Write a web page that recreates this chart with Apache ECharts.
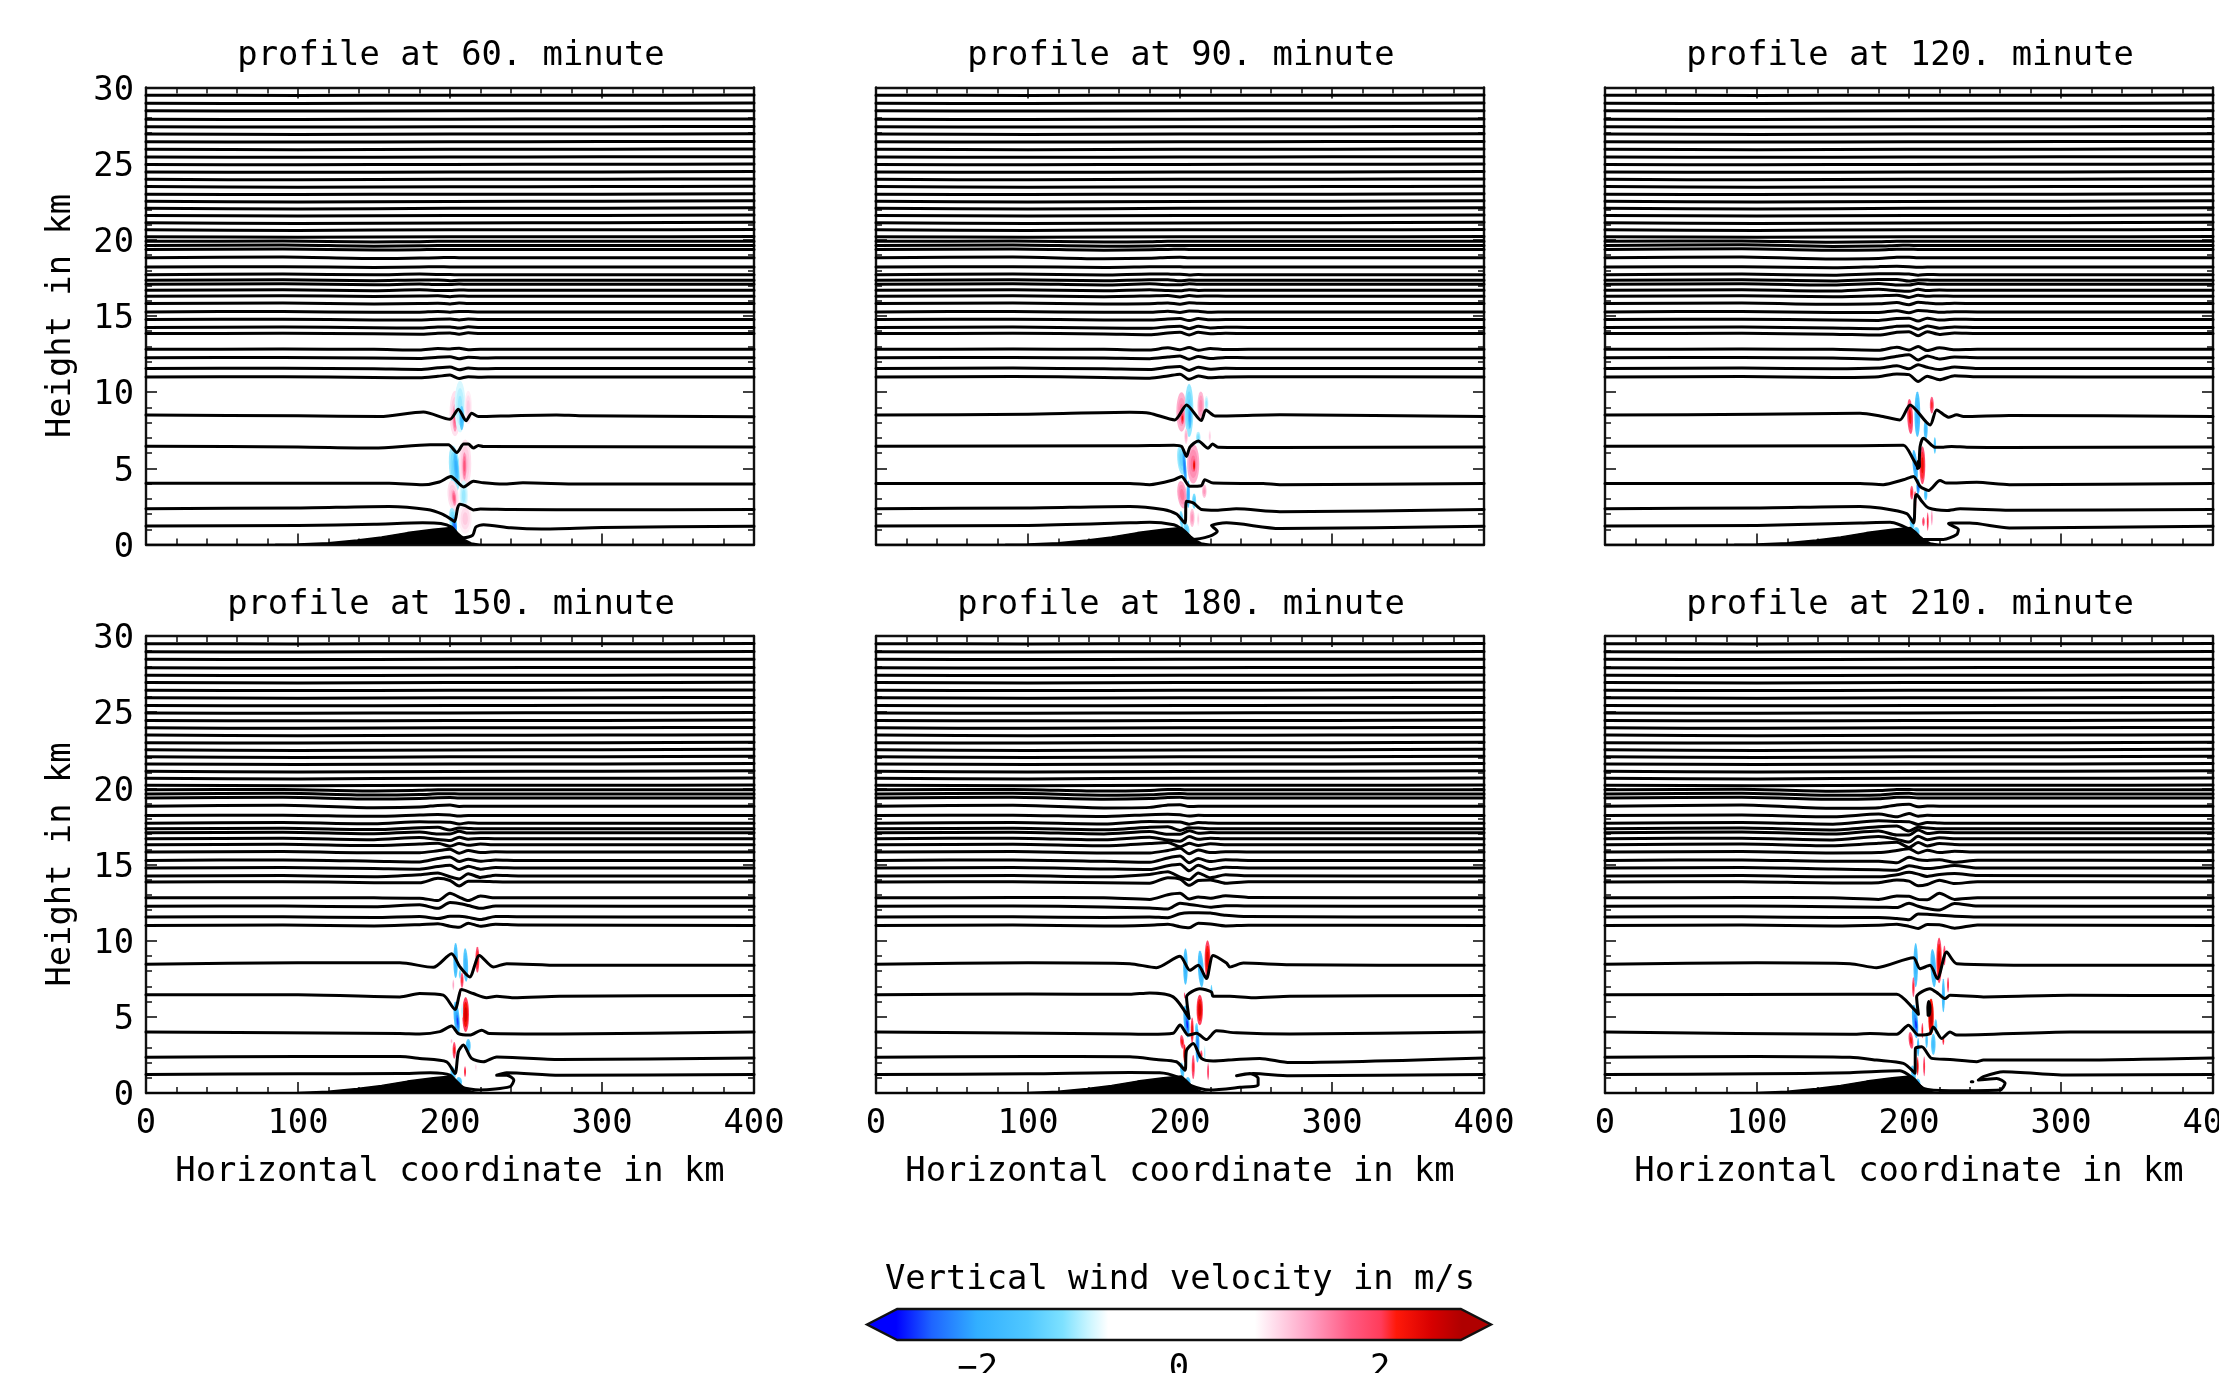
<!DOCTYPE html>
<html><head><meta charset="utf-8">
<style>html,body{margin:0;padding:0;background:#fff;overflow:hidden}#c{width:2219px;height:1373px}</style>
<script src="https://cdn.jsdelivr.net/npm/echarts@6/dist/echarts.min.js"></script>
</head><body><div id="c"></div>
<script>
// ---- data (km, m/s) ----
const panelTitles = ['profile at 60. minute','profile at 90. minute','profile at 120. minute','profile at 150. minute','profile at 180. minute','profile at 210. minute'];
const xTicks = [0,100,200,300,400];
const terrainX = [0,85,100,120,139,155,172,189,201,204,207,210,214,220,400];
const terrainH = [0,0.01,0.04,0.12,0.3,0.5,0.78,1.0,1.12,0.85,0.55,0.3,0.1,0,0];

// upper isentropes: height at x = 0,100,200,300,400
const upperX = [0,100,200,300,400];
const upperRows = [
[20.2,20.17,20.21,20.2,20.22],[20.66,20.62,20.66,20.66,20.68],[21.12,21.08,21.11,21.12,21.15],
[21.6,21.56,21.6,21.6,21.63],[22.08,22.03,22.07,22.08,22.11],[22.53,22.48,22.52,22.53,22.56],
[23.0,22.97,23.0,23.0,23.03],[23.5,23.46,23.48,23.5,23.52],[23.97,23.94,23.97,23.98,24.0],
[24.46,24.43,24.45,24.46,24.48],[24.95,24.93,24.95,24.96,24.97],[25.44,25.42,25.44,25.45,25.46],
[25.94,25.92,25.94,25.95,25.96],[26.44,26.42,26.44,26.45,26.46],[26.94,26.92,26.94,26.95,26.96],
[27.42,27.41,27.42,27.43,27.44],[27.92,27.9,27.92,27.93,27.94],[28.47,28.45,28.47,28.47,28.48],
[28.97,28.95,28.97,28.97,28.98],[29.49,29.48,29.49,29.49,29.5]
];

// mid-level isentropes: base height and departures (1/100 km) at midX
const midX = [0,90,150,180,192,200,206,212,220,230,245,400];
const midBase = [11.0,11.55,12.26,12.81,13.85,14.25,14.77,15.27,15.82,16.3,16.69,17.08,17.34,17.71,18.21,18.83,19.37,19.63,19.9];
const mid60 = [
[0,2,-3,-6,4,12,-10,2,-2,0,0,0],[0,2,-2,-6,5,10,-8,3,-1,0,0,0],[0,2,-2,-5,4,7,-7,4,-2,0,0,0],[0,2,0,-4,6,3,7,-3,1,0,0,0],
[0,1,-2,-5,2,4,-4,5,0,0,0,0],[0,2,-2,-4,3,3,-4,4,-1,0,0,0],[0,2,-3,-3,2,3,-3,3,0,0,0,0],[0,3,-3,-2,3,-2,3,2,0,0,0,0],
[0,3,-3,0,2,-3,3,0,0,0,0,0],[0,3,-2,1,3,-3,2,0,0,0,0,0],[0,3,-3,3,-1,-2,2,0,0,0,0,0],[0,4,-3,2,-2,-2,2,0,0,0,0,0],
[0,4,-2,3,3,-2,1,0,0,0,0,0],[0,4,-1,4,2,2,-1,0,0,0,0,0],[0,3,-2,1,2,1,0,0,0,0,0,0],[0,4,-6,-3,0,1,0,0,0,0,0,0],
[0,3,-4,-2,0,0,0,0,0,0,0,0],[0,3,-5,-2,0,0,0,0,0,0,0,0],[0,2,-4,-2,0,0,0,0,0,0,0,0]];
const mid90 = [
[0,3,-3,-8,6,18,-16,6,-6,0,1,0],[0,3,-2,-6,8,14,-13,8,-4,2,0,0],[0,2,-2,-6,5,12,-10,8,-5,2,0,0],[0,2,0,-4,10,-2,12,-6,6,-1,0,0],
[0,1,-3,-8,4,8,-10,8,-2,1,0,0],[0,2,-3,-6,5,7,-8,7,-3,1,0,0],[0,2,-3,-4,4,6,-7,6,-2,0,0,0],[0,3,-3,-3,5,-4,6,4,-2,0,0,0],
[0,3,-4,-1,4,-5,5,1,0,0,0,0],[0,3,-3,2,5,-5,4,0,1,0,0,0],[0,3,-4,4,-2,-4,4,-1,0,0,0,0],[0,4,-4,3,-3,-3,4,0,0,0,0,0],
[0,4,-3,4,4,-3,2,1,0,0,0,0],[0,4,-2,5,4,3,-2,1,0,0,0,0],[0,3,-3,2,3,2,0,0,0,0,0,0],[0,4,-7,-4,1,2,-1,0,0,0,0,0],
[0,3,-5,-2,0,1,0,0,0,0,0,0],[0,3,-5,-3,0,0,0,0,0,0,0,0],[0,2,-5,-2,1,0,0,0,0,0,0,0]];
const mid120 = [
[0,3,-3,2,20,15,-30,5,-18,8,1,0],[0,3,-2,3,18,-2,25,8,-6,10,0,0],[0,2,-2,-10,10,20,-15,12,-8,5,0,0],[0,2,0,-6,14,-4,18,-8,10,-3,0,0],
[0,1,-4,-10,8,12,-15,12,-6,3,0,0],[0,2,-4,-8,8,10,-12,10,-5,3,0,0],[0,2,-4,-6,6,9,-10,9,-4,2,0,0],[0,3,-4,-4,8,-6,9,6,-3,1,0,0],
[0,3,-5,-2,6,-8,8,3,-2,1,0,0],[0,3,-4,3,7,-8,6,-1,2,0,0,0],[0,3,-5,6,-3,-7,6,-2,1,0,0,0],[0,4,-5,5,-5,-5,6,0,0,0,0,0],
[0,4,-4,6,6,-5,3,2,0,0,0,0],[0,4,-3,7,6,4,-3,2,0,0,0,0],[0,3,-4,3,5,3,-1,0,0,0,0,0],[0,5,-8,-5,2,3,-1,0,0,0,0,0],
[0,4,-6,-3,1,2,0,0,0,0,0,0],[0,4,-6,-4,0,1,0,0,0,0,0,0],[0,3,-6,-3,1,1,0,0,0,0,0,0]];
const mid150 = [
[0,3,-3,5,11,-5,-12,15,-5,8,3,0],[0,2,-3,4,-10,5,5,-2,-16,4,2,0],[0,2,-4,10,-14,25,18,5,-14,2,1,0],[0,1,0,-2,-18,30,5,-18,12,0,1,0],
[0,2,-4,-5,24,10,-26,5,5,2,0,0],[0,2,-5,8,20,-5,-20,15,-10,5,0,0],[0,3,-4,-8,10,18,-10,12,-8,3,0,0],[0,3,-5,-10,12,22,-8,8,-6,3,0,0],
[0,3,-5,-5,8,18,-8,10,-3,1,0,0],[0,3,-6,5,10,-10,8,-4,4,0,0,0],[0,3,-6,8,-5,-12,10,-3,2,0,0,0],[0,4,-6,6,-8,-8,10,-2,0,0,0,0],
[0,4,-5,8,10,-8,6,3,0,0,0,0],[0,4,-4,9,8,6,-5,3,0,0,0,0],[0,3,-5,4,7,4,-2,1,0,0,0,0],[0,6,-10,-6,5,8,-2,0,0,0,0,0],
[0,4,-7,-3,2,3,0,0,0,0,0,0],[0,4,-7,-4,1,2,0,0,0,0,0,0],[0,3,-7,-3,1,1,0,0,0,0,0,0]];
const mid180 = [
[0,3,-4,2,8,-8,-15,15,10,-3,2,0],[0,2,-3,0,-4,22,28,28,26,12,3,0],[0,2,-5,-12,-18,20,12,4,-6,4,1,0],[0,2,0,-10,20,30,-8,6,-2,14,3,0],
[0,2,-5,-8,28,20,-22,10,14,-8,2,0],[0,2,-6,10,28,-8,-25,20,-12,8,1,0],[0,3,-6,-10,15,25,-18,18,-10,5,0,0],[0,3,-6,-12,16,28,-15,12,-8,5,0,0],
[0,3,-6,-6,10,24,-12,14,-4,2,0,0],[0,3,-7,8,14,-14,10,-5,6,0,0,0],[0,4,-7,10,-8,-16,14,-4,4,0,0,0],[0,4,-7,8,-10,-10,14,-3,2,0,0,0],
[0,4,-6,10,14,-10,8,5,0,0,0,0],[0,4,-5,12,10,8,-6,4,1,0,0,0],[0,3,-6,6,9,5,-3,2,0,0,0,0],[0,6,-12,-8,7,10,-3,0,0,0,0,0],
[0,4,-8,-4,3,4,-1,0,0,0,0,0],[0,4,-8,-5,2,3,0,0,0,0,0,0],[0,3,-8,-4,2,2,0,0,0,0,0,0]];
const mid210 = [
[0,3,-3,2,8,-6,-20,6,5,-18,3,0],[0,2,-3,-3,-10,-18,20,18,12,6,1,0],[0,2,-4,-6,-8,20,0,-15,-25,18,2,0],[0,2,0,-10,12,10,-10,-12,30,-10,1,0],
[0,2,-6,-4,14,6,-24,-16,12,-10,2,0],[0,2,-6,-6,8,24,12,-3,10,16,2,0],[0,3,-7,-12,-14,15,5,-4,4,16,0,0],[0,3,-6,-6,-16,20,4,0,5,-12,1,0],
[0,3,-6,-4,10,22,-6,12,-4,5,0,0],[0,4,-7,10,16,-18,14,-8,8,2,0,0],[0,4,-8,14,-4,-22,16,-6,6,0,0,0],[0,5,-8,12,-14,-14,18,-4,3,1,0,0],
[0,5,-7,14,18,-14,10,6,1,0,0,0],[0,5,-6,16,12,10,-8,5,2,0,0,0],[0,4,-8,10,-8,14,-4,2,0,0,0,0],[0,7,-14,-10,8,12,-4,1,0,0,0,0],
[0,5,-9,-5,4,5,-1,0,0,0,0,0],[0,5,-9,-6,3,4,0,0,0,0,0,0],[0,4,-9,-5,2,3,0,0,0,0,0,0]];

// lowest isentropes as x,height pairs
const low60 = [
[0,1.22,100,1.24,150,1.33,182,1.42,194,1.38,201,1.15,205,.7,209,.44,215,.62,217,1.15,222,1.3,240,1.1,260,1.02,300,1.12,400,1.2],
[0,2.35,100,2.4,160,2.5,185,2.3,195,2.0,200,1.7,203,1.5,205,2.4,206.5,2.65,210,2.55,215.5,2.27,220,2.33,240,2.3,300,2.28,400,2.3],
[0,4.02,100,4.02,160,4.02,182,3.92,193,4.1,200.5,4.47,209,3.78,215.4,4.15,222,4.05,235,3.97,248,4.05,285,3.97,400,3.97],
[0,6.45,100,6.4,150,6.33,187,6.55,199,6.55,204.5,6.04,209,6.59,212,6.59,215.4,6.33,218.7,6.5,222,6.43,400,6.4],
[0,8.5,100,8.45,154,8.4,182.5,8.7,200,8.22,205.5,8.88,210.6,8.13,214.3,8.62,218.7,8.4,242,8.46,270,8.5,285,8.46,400,8.38]];
const low90 = [
[0,1.22,100,1.25,167,1.42,180,1.46,196,1.3,199.9,1.09,207.6,.33,219.6,.55,224.5,.87,220.7,1.24,230.6,1.42,265.7,1.05,400,1.2],
[0,2.35,100,2.4,167,2.5,189,2.3,197.7,2.0,203.2,1.41,204.3,2.84,208.7,2.73,214.1,2.3,224,2.25,237,2.34,265.7,2.15,400,2.3],
[0,4.0,167,4.0,180,3.93,196,4.25,201,4.47,206.5,3.82,214,3.86,216.3,4.25,221.8,4.03,254.7,4.0,265.7,3.93,400,4.0],
[0,6.45,167,6.48,196,6.52,201,6.44,204.3,5.78,206.5,6.39,212,6.8,218.5,6.32,221.4,6.59,225,6.39,265.7,6.37,400,6.4],
[0,8.5,100,8.55,167,8.68,180,8.62,196.6,8.18,204.3,9.16,214,8.14,217,8.83,223,8.44,265.7,8.51,400,8.4]];
const low120 = [
[0,1.22,100,1.25,167.8,1.41,187.5,1.46,203,.87,209.5,.33,222.6,.33,231.4,.65,232.5,.98,227,1.3,226,1.37,228,1.41,240,1.41,266,1.09,400,1.2],
[0,2.35,100,2.4,167.8,2.5,181,2.4,198.5,2.03,203,1.41,204,2.95,205,3.28,208.4,2.84,212.8,2.4,224.8,2.23,233.6,2.34,266,2.25,400,2.3],
[0,4.0,167.8,4.0,183,3.93,196.3,4.25,202.9,4.47,207.3,3.82,212.8,3.55,220.4,4.2,224.8,4.03,244.6,4.08,266,3.93,400,4.0],
[0,6.45,167.8,6.48,196.3,6.52,202.9,5.57,206.2,5.02,207.3,6.44,209.5,6.98,217.1,6.39,222.6,6.39,228,6.44,238,6.39,266,6.37,400,6.4],
[0,8.5,100,8.55,167.8,8.62,181,8.44,194,8.18,200.7,9.16,213.9,7.85,218.2,8.83,226,8.36,231.4,8.51,235.8,8.4,266,8.47,400,8.4],
[205.6,5.0,205.9,5.4,206.6,5.5,206.8,5.1,205.6,5.0]];
const low150 = [
[0,1.22,100,1.26,167,1.28,187,1.33,200,1.17,206.6,.42,219.7,.2,239.5,.42,242,.85,237.3,1.17,230.7,1.17,237.3,1.33,272,1.17,400,1.22],
[0,2.35,100,2.4,167,2.4,180,2.27,197.8,2.05,203.3,1.28,205.5,2.71,208.8,3.15,214.2,2.27,221.9,2.05,230.7,2.37,272,2.2,400,2.3],
[0,4.0,167,3.9,180,3.87,193.4,4.03,201,4.4,205.5,3.9,213,3.8,220.8,4.12,226,3.9,272,3.87,400,4.0],
[0,6.45,100,6.45,167,6.31,180,6.53,195.6,6.42,203.3,5.48,207.7,6.79,215.3,6.53,224,6.26,230.7,6.35,241.7,6.26,272,6.35,400,6.4],
[0,8.45,100,8.55,167,8.55,189,8.25,201,9.14,206.6,8.27,213,7.62,219.3,9.03,228.5,8.27,237.3,8.49,272,8.38,400,8.38]];
const low180 = [
[0,1.22,100,1.26,167,1.35,186.7,1.33,197.7,1.07,206.5,.52,219.6,.2,239.4,.37,251.4,.52,251.4,.96,246,1.28,237.2,1.13,248.1,1.28,272.3,1.13,400,1.22],
[0,2.35,100,2.4,167,2.38,184.5,2.2,197.7,2.05,203.2,1.5,204.3,2.8,208.7,3.25,214.1,2.27,221.8,2.1,237.2,2.2,252.5,2.27,272.3,2.0,400,2.3],
[0,4.0,167,3.87,180,3.85,195.5,3.92,200,4.47,205.5,3.8,210.9,3.92,217.4,3.51,224,4.08,237.2,3.95,272.3,3.87,400,4.0],
[0,6.45,100,6.5,167,6.48,180,6.57,195.5,6.31,206,4.89,204.3,6.31,213,6.85,220.7,6.63,221.8,6.35,232.8,6.35,248,6.26,272.3,6.35,400,6.4],
[0,8.45,100,8.55,167,8.49,184.5,8.23,200,8.97,206.5,8.05,212,8.38,217.4,7.51,221.8,9.03,230.6,8.53,232.8,8.27,241.6,8.53,272.3,8.42,400,8.38]];
const low210 = [
[0,1.22,100,1.26,161.2,1.33,194,1.46,202.9,.96,209.4,.3,227,.15,259.9,.2,263.2,.64,257.7,.96,245.6,.85,248.9,1.07,262,1.39,306,1.18,400,1.22],
[0,2.35,100,2.4,161.2,2.34,178.7,2.16,196.3,1.94,204,1.29,204.2,2.92,208.4,3.03,215,2.27,227,2.2,244.5,2.05,249,2.16,306,2.16,400,2.3],
[0,4.0,161.2,3.86,174.4,3.9,192,3.86,199.6,4.45,206.2,3.8,213.8,3.9,216,4.34,221.5,3.58,227,4.01,231.4,3.8,306,4.01,400,4.0],
[0,6.45,161.2,6.48,192,6.48,202.9,5.54,206.2,5.17,205,6.31,213.8,6.85,219.3,6.52,223.7,6.2,227,6.41,249,6.31,306,6.41,400,6.4],
[0,8.45,100,8.55,161.2,8.49,178.7,8.23,202.9,8.88,207.2,8.16,213.8,8.38,218.7,7.5,224.8,9.25,231.4,8.49,306,8.38,400,8.38],
[212.6,5.1,212.4,5.6,213,6.0,213.8,5.6,213.2,5.1,212.6,5.1],[241,.74,242,.74]];

// vertical-wind cells: x, height, half-width (km), half-height (km), tilt (km/km), w (m/s)
const cells60 = [
[203.3,8.6,3.6,1.5,0,1.15],[203.3,8.3,1.5,.9,0,1.7],[206.6,9.05,3.6,1.7,0,-1.05],[207.7,8.3,1.5,.8,0,-1.8],[212,9.0,2.4,1.1,0,1.05],
[203,5.0,3.6,1.5,-.8,-1.3],[204,5.1,1.5,1,-.8,-1.95],[210,5.3,4,1.6,0,1.15],[209.5,5.15,1.3,.9,0,1.75],
[202,3.2,3.6,1,-.8,1.15],[202.7,3.05,1.3,.5,-.8,1.75],[209,3.2,2.7,1,0,-1.05],[210,1.7,4.2,1,0,1.05],[202,1.6,2.5,.8,-1,-1.3],[203,1.2,1.5,.6,-1,-2.4]];
const cells90 = [
[201,8.7,3.4,1.3,0,1.5],[201.6,8.29,1,.4,0,2.2],[206,8.8,2.8,1.75,0,-1.35],[206.5,8.4,1.1,.8,0,-2.1],[213.7,9.1,2.2,.95,0,1.45],
[217.4,9.25,1.3,.5,0,-1.05],[204,7.1,1.1,.5,0,1.25],[212,7.0,1.5,.4,0,-1.2],[219.6,7.1,.8,.4,0,1.05],
[201,5.57,2.8,1,-.8,-1.3],[203,5.1,1.1,1.1,-.8,-2.3],[208.7,5.3,4,1.3,0,1.55],[209.3,5.2,.8,.4,0,2.4],
[201.4,3.27,3.1,.9,-1,1.55],[205.4,3.3,1.1,.9,0,-2],[209.3,2.85,1.3,.5,0,-1.45],[216,3.5,1.5,.45,0,1.35],[208,1.75,1.6,.6,0,1.35],[212,1.65,.8,.45,0,1.05],
[201,1.65,1.3,.55,-.8,-1.45],[204.3,1,1.9,.4,-1.5,-1.45]];
const cells120 = [
[200.7,8.4,1.9,1.15,-.4,2.2],[205.5,8.55,1.9,1.5,0,-1.9],[211,7.55,1.3,.65,0,-1.8],[215,9.15,1.3,.55,0,2.1],[217,6.5,.8,.55,0,-1.7],
[204,5.2,1.6,1,-.9,-2.1],[208.8,5.2,1.9,1.25,0,2.3],[201.8,3.4,1.1,.45,0,2.1],[206,3.8,1.1,.5,0,-2.4],[211,3.3,1.1,.4,0,-1.7],[204,2.8,.8,.7,0,2.5],
[202,1.4,1.5,.4,-1,-1.6],[209.5,1.5,.8,.3,0,2],[212.3,1.5,.6,.6,0,2.1],[215,1.75,.6,.5,0,1.4],[205,.85,1.9,.3,-1,-1.6]];
const cells150 = [
[203.7,8.7,1.5,1.15,0,-1.9],[210.3,8.4,1.6,1.1,-.3,-1.8],[218,8.75,1.3,.85,0,2.3],[206.6,7.8,.8,.3,0,-1.3],[202.2,7.1,.6,.35,0,1.3],[207.9,7.4,1,.5,0,2.1],[206.6,6.6,.6,.3,0,2],
[210.3,5.15,2.2,1.15,0,2.5],[204.4,4.9,1.9,1.1,-.8,-2.0],[205,4.7,1,.6,-.8,-2.6],[208,5.4,.6,.5,0,-1],[212,3.1,1.6,.45,0,-1.8],
[202.8,2.8,1.1,.55,0,2.2],[201,3.4,.6,.15,0,1.2],[209.9,1.4,.6,.35,0,2.2],[217,1.7,.6,.25,0,1],[202,1.3,1.6,.45,-1.3,-1.7],[206,.75,1.9,.3,-1,-1.7]];
const cells180 = [
[203.6,8.3,1.5,1.2,0,-1.9],[213.7,8.15,1.9,1.2,-.5,-1.9],[218.1,8.77,1.9,1.25,0,2.4],[203,6.4,.4,.2,0,2],[213,5.45,2.1,1,0,2.5],
[204.3,4.7,1.9,1.05,-.8,-2.1],[204.8,4.5,1,.6,-.8,-2.7],[210.9,4.2,1,.4,0,-1.5],[208,4.1,1,.85,0,2.3],[201.4,3.35,1.3,.45,-1,2.2],
[211.5,3.1,1.3,1.1,0,-2.3],[203,2.6,.8,.6,0,2.6],[208.7,1.7,1,.8,0,2.1],[214,2.5,.8,.3,0,2.1],[216.3,2.6,.4,.5,0,-1.1],[218.5,1.4,.6,.55,0,2],
[220.7,6.7,.6,.4,0,-1.6],[201.4,1.5,1.3,.5,-1,-1.7],[205.4,.75,1.5,.3,-1,-1.8]];
const cells210 = [
[204.4,8.4,1.5,1.45,0,-1.9],[216,8.2,1.8,1.25,-.5,-1.9],[219.8,8.7,1.8,1.5,0,2.4],[223.3,9.03,.8,.65,0,2.2],[202.9,6.95,.8,.65,0,2.1],[225.7,7.1,.6,.5,0,2.1],[222.6,6.4,1,1.1,0,-1.9],
[214.5,5.0,1.8,1.2,0,2.7],[204,4.7,1.9,1.1,-.8,-2.2],[204.6,4.5,1,.6,-.8,-2.7],[217.6,4.35,1,.5,0,-1.6],[208.8,4.1,.6,.5,0,2.2],[211.6,3.45,.8,.5,0,-1.7],[216,3.2,1.5,.7,0,-1.7],[222.6,3.45,.6,.3,0,2.2],
[201.3,3.45,1.5,.55,-1,2.2],[205.7,1.75,.6,.6,0,2.5],[202.9,1.3,1.5,.5,-1.3,-1.7],[206,.65,1.5,.3,-1,-1.8],[210,1.75,.6,.65,0,2.1],[206,3,.8,.6,0,-2]];

// colour bar
const cbStopV = [-3.1,-2.8,-2.45,-2,-1.5,-1.15,-.9,-.7,.75,.95,1.3,1.7,2.0,2.15,2.5,2.8,3.1];
const cbStopC = [[0,0,255],[0,0,255],[30,100,255],[50,175,255],[80,200,255],[125,225,255],[200,245,255],[255,255,255],[255,255,255],[255,220,235],[255,160,195],[255,90,130],[255,60,90],[255,25,10],[215,0,0],[175,0,0],[175,0,0]];
const cbOutline = [[-3.1,.5],[-2.8,1],[2.8,1],[3.1,.5],[2.8,0],[-2.8,0]];
const cbMajor = [-2,0,2];
const cbMinor = [-2.5,-1.5,-1,-.5,.5,1,1.5,2.5];

// ---- assembling ----
const lowAll = [low60,low90,low120,low150,low180,low210];
const midAll = [mid60,mid90,mid120,mid150,mid180,mid210];
const cellAll = [cells60,cells90,cells120,cells150,cells180,cells210];
const FONT = '"DejaVu Sans Mono", monospace';
const FS = 33.8;
const colLeft = [146,876,1605], gw = 608, rowTop = [87.5,636], gh = 457;

function windColor(w){
  let i=0; while(i<cbStopV.length-2 && w>cbStopV[i+1]) i++;
  const t=Math.max(0,Math.min(1,(w-cbStopV[i])/(cbStopV[i+1]-cbStopV[i])));
  const a=cbStopC[i],b=cbStopC[i+1];
  return 'rgb('+a.map((v,k)=>Math.round(v+(b[k]-v)*t)).join(',')+')';
}
function renderCell(params, api){
  const x=api.value(0),y=api.value(1),rx=api.value(2),ry=api.value(3),tilt=api.value(4),w=api.value(5);
  const layers=[[1,.8],[.72,.9],[.42,1]];
  return {type:'group',children:layers.map(([s,f])=>{
    const pts=[];
    for(let k=0;k<24;k++){
      const a=k/24*Math.PI*2, dy=Math.sin(a)*ry*s;
      pts.push(api.coord([x+Math.cos(a)*rx*s+tilt*dy, y+dy]));
    }
    return {type:'polygon',shape:{points:pts},style:{fill:windColor(w*f)}};
  })};
}
const black='#000';
const grids=[],xAxes=[],yAxes=[],series=[],titles=[];
function addLine(ax,data,w){
  series.push({type:'line',xAxisIndex:ax,yAxisIndex:ax,data,showSymbol:false,symbol:'none',smooth:.25,clip:true,silent:true,z:4,
    lineStyle:{color:black,width:w||3,cap:'round',join:'round'}});
}
for(let p=0;p<6;p++){
  const c=p%3,r=Math.floor(p/3),ax=p*2; // two axes per panel
  grids.push({left:colLeft[c],top:rowTop[r],width:gw,height:gh,show:false,outerBoundsMode:'none',containLabel:false});
  const tickCommon={axisLine:{show:true,onZero:false,lineStyle:{color:'#111',width:2.4}},
    axisTick:{show:true,inside:true,length:11,lineStyle:{color:'#111',width:1.6}},
    minorTick:{show:true,splitNumber:5,length:6,lineStyle:{color:'#111',width:1.5}},splitLine:{show:false}};
  const lbl={fontFamily:FONT,fontSize:FS,color:'#000'};
  xAxes.push(Object.assign({type:'value',gridIndex:p,min:0,max:400,interval:100,position:'bottom',
    axisLabel:{show:r===1,margin:14,...lbl,hideOverlap:false,showMinLabel:true,showMaxLabel:true},
    name:r===1?'Horizontal coordinate in km':'',nameLocation:'middle',nameGap:62,nameTextStyle:lbl},tickCommon));
  xAxes.push(Object.assign({type:'value',gridIndex:p,min:0,max:400,interval:100,position:'top',axisLabel:{show:false}},tickCommon));
  yAxes.push(Object.assign({type:'value',gridIndex:p,min:0,max:30,interval:5,position:'left',
    axisLabel:{show:c===0,margin:12,...lbl,verticalAlign:'top',lineHeight:7,showMinLabel:true,showMaxLabel:true},
    name:c===0?'Height in km':'',nameLocation:'middle',nameGap:68,nameTextStyle:lbl},tickCommon));
  yAxes.push(Object.assign({type:'value',gridIndex:p,min:0,max:30,interval:5,position:'right',axisLabel:{show:false}},tickCommon));
  titles.push({text:panelTitles[p],left:colLeft[c]+gw/2-4,top:rowTop[r]-53,textAlign:'center',
    textStyle:{fontFamily:FONT,fontSize:FS,fontWeight:'normal',color:'#000'}});
  series.push({type:'custom',xAxisIndex:ax,yAxisIndex:ax,data:cellAll[p],renderItem:renderCell,clip:true,silent:true,z:2,
    dimensions:['x','y','rx','ry','tilt','w'],encode:{x:0,y:1}});
  series.push({type:'line',xAxisIndex:ax,yAxisIndex:ax,data:terrainX.map((x,i)=>[x,terrainH[i]]),showSymbol:false,symbol:'none',silent:true,z:3,
    lineStyle:{color:black,width:1.5},areaStyle:{color:black,opacity:1}});
  lowAll[p].forEach(a=>{const d=[];for(let i=0;i<a.length;i+=2)d.push([a[i],a[i+1]]);addLine(ax,d);});
  midAll[p].forEach((row,i)=>addLine(ax,row.map((v,j)=>[midX[j],midBase[i]+v/100])));
  upperRows.forEach(row=>addLine(ax,row.map((v,j)=>[upperX[j],v])));
}
// colour bar grid
const cbAxis=12;
grids.push({left:867,top:1309,width:624,height:31,show:false,outerBoundsMode:'none',containLabel:false});
const cbx0=-3.1,cbx1=3.1;
xAxes.push({type:'value',gridIndex:6,min:cbx0,max:cbx1,position:'bottom',axisLine:{show:false,onZero:false},splitLine:{show:false},
  axisTick:{show:true,inside:true,length:11,customValues:cbMajor,lineStyle:{color:'#111',width:1.6}},
  axisLabel:{show:true,margin:12,customValues:cbMajor,fontFamily:FONT,fontSize:FS,color:'#000',formatter:v=>v<0?'\u2212'+Math.abs(v):String(v)}});
xAxes.push({type:'value',gridIndex:6,min:cbx0,max:cbx1,position:'bottom',axisLine:{show:false,onZero:false},splitLine:{show:false},
  axisTick:{show:true,inside:true,length:6,customValues:cbMinor,lineStyle:{color:'#111',width:1.5}},axisLabel:{show:false}});
yAxes.push({type:'value',gridIndex:6,min:0,max:1,show:false});
yAxes.push({type:'value',gridIndex:6,min:0,max:1,show:false});
series.push({type:'custom',xAxisIndex:cbAxis,yAxisIndex:cbAxis,data:[[0,0]],clip:false,silent:true,z:1,
  renderItem:(params,api)=>({type:'polygon',shape:{points:cbOutline.map(q=>api.coord(q))},
    style:{stroke:'#111',lineWidth:2.4,fill:new echarts.graphic.LinearGradient(0,0,1,0,
      cbStopV.map((v,i)=>({offset:(v-cbx0)/(cbx1-cbx0),color:'rgb('+cbStopC[i].join(',')+')'})))}})});
titles.push({text:'Vertical wind velocity in m/s',left:1175,top:1258,textAlign:'center',
  textStyle:{fontFamily:FONT,fontSize:FS,fontWeight:'normal',color:'#000'}});

const chart=echarts.init(document.getElementById('c'),null,{renderer:'canvas',width:2219,height:1373});
chart.setOption({animation:false,backgroundColor:'#fff',title:titles,grid:grids,xAxis:xAxes,yAxis:yAxes,series});
</script></body></html>
